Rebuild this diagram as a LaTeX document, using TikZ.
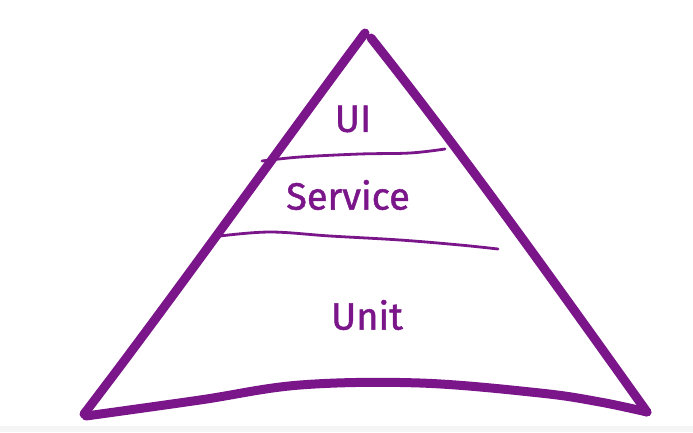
\documentclass[tikz,border=0pt]{standalone}
\usepackage{fontspec}
\setmainfont{Fira Sans}
\newfontfamily\labfont[FakeBold=1.2]{Fira Sans}
\definecolor{pyr}{RGB}{122,22,138}
\begin{document}
\begin{tikzpicture}[x=1pt,y=-1pt,
  outline/.style={draw=pyr,line width=9pt,line cap=round,line join=round},
  divider/.style={draw=pyr,line width=2.8pt,line cap=round},
  label/.style={text=pyr,font=\labfont\fontsize{38}{40}\selectfont}]
\useasboundingbox (0,0) rectangle (693,432);
\fill[black!4] (0,426) rectangle (693,432);
% sides
\draw[outline] (84,414) .. controls (175,295) and (272,158) .. (365,33);
\draw[outline] (371,38) .. controls (460,150) and (560,290) .. (647,412);
% base
\draw[outline] plot[smooth,tension=0.6] coordinates {(647,412) (600,402) (540,393) (420,383) (300,385) (200,400) (86,416)};
% dividers
\draw[divider] plot[smooth,tension=0.6] coordinates {(262,161) (300,157) (360,154) (410,153) (445,149)};
\draw[divider] plot[smooth,tension=0.6] coordinates {(220,236) (270,232) (330,236) (400,240) (460,245) (498,249)};
% labels
\node[label] (ui) at (353,119) {UI};
\node[label] (service) at (348,195) {Service};
\node[label] (unit) at (367,315) {Unit};
\end{tikzpicture}
\end{document}
